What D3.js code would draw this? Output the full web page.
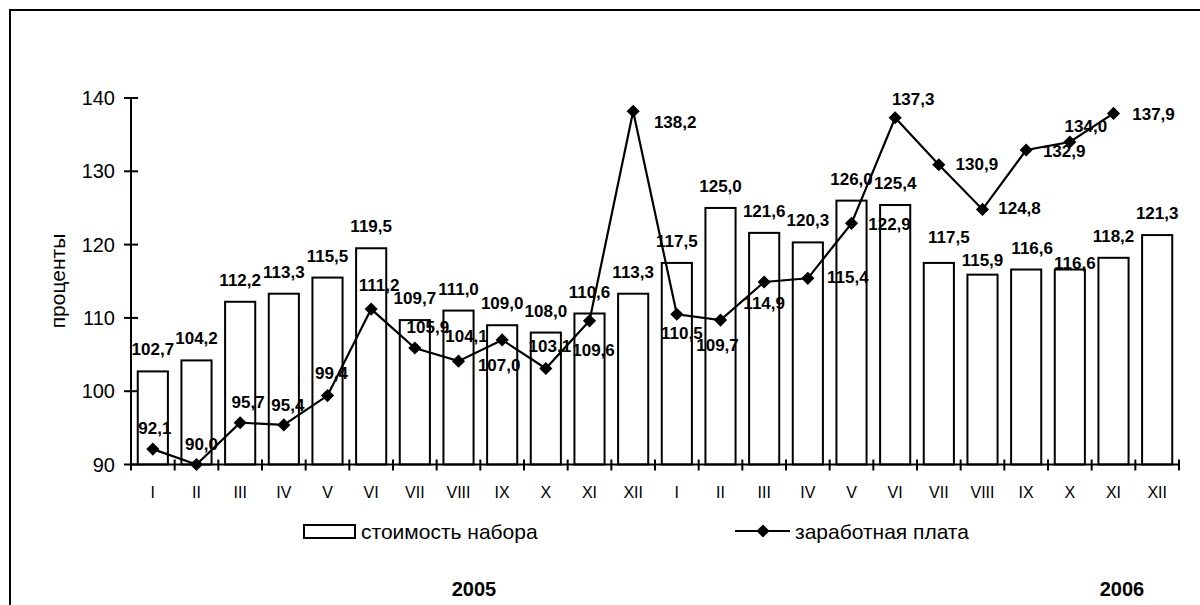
<!DOCTYPE html>
<html><head><meta charset="utf-8">
<script src="https://cdn.jsdelivr.net/npm/d3@7"></script>
<style>body{margin:0;background:#fff}svg{display:block}text{font-family:Arial,"Liberation Sans",sans-serif;fill:#000}</style>
</head><body>
<script>
const months = ["I","II","III","IV","V","VI","VII","VIII","IX","X","XI","XII","I","II","III","IV","V","VI","VII","VIII","IX","X","XI","XII"];
const years = ["2005","2006"];
const costValues = [102.7,104.2,112.2,113.3,115.5,119.5,109.7,111.0,109.0,108.0,110.6,113.3,117.5,125.0,121.6,120.3,126.0,125.4,117.5,115.9,116.6,116.6,118.2,121.3];
const wageValues = [92.1,90.0,95.7,95.4,99.4,111.2,105.9,104.1,107.0,103.1,109.6,138.2,110.5,109.7,114.9,115.4,122.9,137.3,130.9,124.8,132.9,134.0,137.9];
const yTicks = [90,100,110,120,130,140];
const seriesNames = ["стоимость набора","заработная плата"];
const yTitle = "проценты";
// label nudges (dx, dy) relative to the default placement
const costLabelNudge = [[0,0],[0,0],[0,0],[0,0],[0,0],[0,0],[0,0],[0,0],[0,0],[0,0],[0,0],[0,0],[0,0],[0,0],[0,0],[0,0],[0,0],[0,0],[10,-4],[0,7],[6,0],[5,15],[0,0],[0,0]];
const wageLabelNudge = [[2,-15],[5,-15],[8,-15],[4,-14],[4,-17],[8,-18],[13,-15],[8,-19],[-3,31],[4,-16],[4,35],[42,17],[5,25],[-3,31],[0,27],[40,5],[38,7],[18,-13],[38,5],[37,5],[38,7],[16,-10],[40,7]];

const W=1200,H=605;
const svg=d3.select("body").append("svg").attr("width",W).attr("height",H);
const fmt=v=>v.toFixed(1).replace(".",",");

// frame
svg.append("rect").attr("x",10).attr("y",10).attr("width",1230).attr("height",700)
  .attr("fill","none").attr("stroke","#000").attr("stroke-width",2);

const x=d3.scaleBand().domain(d3.range(months.length)).range([131,1179]).paddingInner(0.31).paddingOuter(0.155);
const y=d3.scaleLinear().domain([90,140]).range([464.5,98]);
const step=x.step();

// bars
svg.append("g").selectAll("rect").data(costValues).join("rect")
  .attr("x",(d,i)=>x(i)).attr("y",d=>y(d)).attr("width",x.bandwidth()).attr("height",d=>y(90)-y(d))
  .attr("fill","#fff").attr("stroke","#000").attr("stroke-width",2);

// y axis
const ya=svg.append("g");
ya.append("line").attr("x1",131).attr("x2",131).attr("y1",y(140)).attr("y2",y(90)).attr("stroke","#000").attr("stroke-width",2);
ya.selectAll("line.t").data(yTicks).join("line").attr("class","t")
  .attr("x1",124).attr("x2",138).attr("y1",d=>y(d)).attr("y2",d=>y(d)).attr("stroke","#000").attr("stroke-width",2);
ya.selectAll("text").data(yTicks).join("text")
  .attr("x",115).attr("y",d=>y(d)+7).attr("text-anchor","end").attr("font-size",20).text(d=>d);

// x axis
const xa=svg.append("g");
xa.append("line").attr("x1",131).attr("x2",1179).attr("y1",y(90)).attr("y2",y(90)).attr("stroke","#000").attr("stroke-width",2);
xa.selectAll("line.t").data(d3.range(months.length+1)).join("line").attr("class","t")
  .attr("x1",i=>131+i*step).attr("x2",i=>131+i*step).attr("y1",y(90)-5).attr("y2",y(90)+6).attr("stroke","#000").attr("stroke-width",2);
xa.selectAll("text").data(months).join("text")
  .attr("x",(d,i)=>x(i)+x.bandwidth()/2).attr("y",498).attr("text-anchor","middle").attr("font-size",16).text(d=>d);

// bar labels
svg.append("g").selectAll("text").data(costValues).join("text")
  .attr("x",(d,i)=>x(i)+x.bandwidth()/2+costLabelNudge[i][0]).attr("y",(d,i)=>y(d)-16+costLabelNudge[i][1])
  .attr("text-anchor","middle").attr("font-size",17).attr("font-weight","bold").text(d=>fmt(d));

// wage line
const cx=i=>x(i)+x.bandwidth()/2;
svg.append("path").datum(wageValues)
  .attr("d",d3.line().x((d,i)=>cx(i)).y(d=>y(d)))
  .attr("fill","none").attr("stroke","#000").attr("stroke-width",2.2);
const diamond=d3.symbol().type(d3.symbolDiamond2).size(110);
svg.append("g").selectAll("path").data(wageValues).join("path")
  .attr("d",diamond).attr("transform",(d,i)=>`translate(${cx(i)},${y(d)})`).attr("fill","#000");
svg.append("g").selectAll("text").data(wageValues).join("text")
  .attr("x",(d,i)=>cx(i)+wageLabelNudge[i][0]).attr("y",(d,i)=>y(d)+wageLabelNudge[i][1])
  .attr("text-anchor","middle").attr("font-size",17).attr("font-weight","bold").text(d=>fmt(d));

// y title
svg.append("text").attr("transform","translate(65,281) rotate(-90)").attr("text-anchor","middle").attr("font-size",21).text(yTitle);

// legend
const lg=svg.append("g");
lg.append("rect").attr("x",304).attr("y",525).attr("width",51).attr("height",13).attr("fill","#fff").attr("stroke","#000").attr("stroke-width",2);
lg.append("text").attr("x",361).attr("y",539).attr("font-size",21).text(seriesNames[0]);
lg.append("line").attr("x1",735).attr("x2",790).attr("y1",531).attr("y2",531).attr("stroke","#000").attr("stroke-width",2.2);
lg.append("path").attr("d",diamond).attr("transform","translate(763,531)").attr("fill","#000");
lg.append("text").attr("x",795).attr("y",539).attr("font-size",21).text(seriesNames[1]);

// years
svg.append("g").selectAll("text").data(years).join("text")
  .attr("x",(d,i)=>i===0?474:1122).attr("y",596).attr("text-anchor","middle").attr("font-size",20).attr("font-weight","bold").text(d=>d);
</script>
</body></html>
